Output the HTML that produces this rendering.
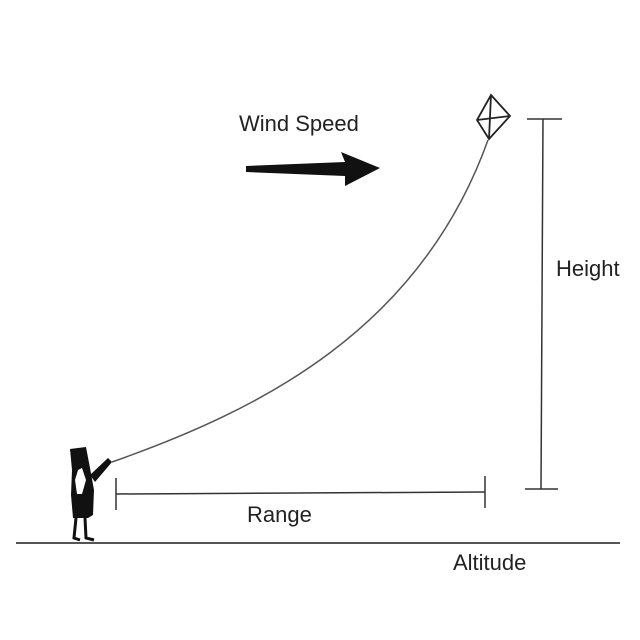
<!DOCTYPE html>
<html><head><meta charset="utf-8"><style>
html,body{margin:0;padding:0;background:#fff;width:640px;height:640px;overflow:hidden}
text{font-family:"Liberation Sans",sans-serif;font-size:22px;fill:#222}
</style></head><body>
<svg width="640" height="640" viewBox="0 0 640 640">
<line x1="16" y1="543" x2="620" y2="543" stroke="#555" stroke-width="2"/>
<text x="453" y="570">Altitude</text>
<g>
<path d="M70,449 L86,447 L90,468 L94,490 L93,515 L88,518 L73,518 L71,495 L72,470 Z" fill="#111"/>
<path d="M78,470 L82,468 L86,480 L82,494 L77,494 L75,480 Z" fill="#fff"/>
<path d="M90,475 L108,458 L112,462 L95,482 Z" fill="#111"/>
<path d="M76,518 L74,538 L80,540 M85,518 L86,538 L94,540" stroke="#111" stroke-width="3" fill="none"/>
</g>
<path d="M112,462 C260,410 420,330 488,140" stroke="#555" stroke-width="1.5" fill="none"/>
<g stroke="#222" stroke-width="1.8" fill="none">
<path d="M491,95 L510,116 L489,139 L477,120 Z"/>
<line x1="491" y1="95" x2="489" y2="139"/>
<line x1="477" y1="120" x2="510" y2="116"/>
</g>
<g stroke="#333" stroke-width="1.5">
<line x1="116" y1="478" x2="116" y2="510"/>
<line x1="116" y1="494" x2="485" y2="492"/>
<line x1="485" y1="476" x2="485" y2="508"/>
</g>
<text x="247" y="522">Range</text>
<g stroke="#333" stroke-width="1.5">
<line x1="527" y1="119" x2="562" y2="119"/>
<line x1="543" y1="119" x2="541" y2="489"/>
<line x1="525" y1="489" x2="558" y2="489"/>
</g>
<text x="556" y="276">Height</text>
<text x="239" y="131">Wind Speed</text>
<path d="M246,166 L345,162 L341,152 L380,168 L345,186 L345,176 L246,172 Z" fill="#111"/>
</svg>
</body></html>
